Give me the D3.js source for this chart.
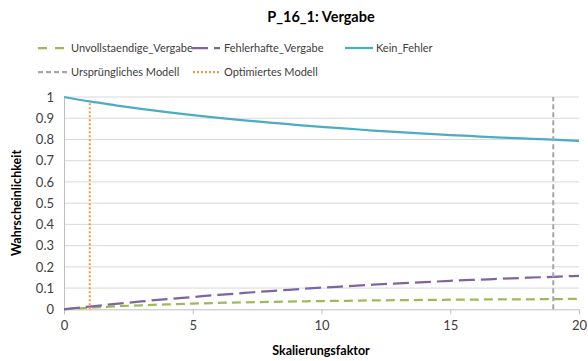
<!DOCTYPE html>
<html>
<head>
<meta charset="utf-8">
<script src="https://cdn.jsdelivr.net/npm/d3@7"></script>
<style>
  html, body { margin: 0; padding: 0; background: #fff; }
  svg { display: block; font-family: Lato, "Open Sans", sans-serif; }
</style>
</head>
<body>
<svg id="chart" width="588" height="361"></svg>
<script>
// Skalierungsfaktor 0..20
const factors = [0,1,2,3,4,5,6,7,8,9,10,11,12,13,14,15,16,17,18,19,20];
const unvollstaendige = [0,0.008,0.014,0.019,0.023,0.027,0.030,0.033,0.035,0.037,0.039,0.040,0.042,0.043,0.044,0.045,0.046,0.047,0.047,0.048,0.049];
const fehlerhafte = [0,0.013,0.025,0.037,0.048,0.058,0.068,0.077,0.086,0.094,0.102,0.109,0.116,0.122,0.128,0.134,0.139,0.144,0.149,0.153,0.158];
const keinFehler = [1,0.979,0.961,0.944,0.929,0.915,0.902,0.890,0.879,0.869,0.859,0.851,0.842,0.835,0.828,0.821,0.815,0.809,0.804,0.799,0.793];
const modelFactors = { urspruenglich: 19, optimiert: 1 };
const xTicks = [0,5,10,15,20];
const yTicks = [0,0.1,0.2,0.3,0.4,0.5,0.6,0.7,0.8,0.9,1];

const svg = d3.select("#chart");
const x = d3.scaleLinear().domain([0,20]).range([64,579]);
const y = d3.scaleLinear().domain([0,1]).range([309.3,97]);

// Title
svg.append("text").attr("x",321).attr("y",22).attr("text-anchor","middle")
  .attr("font-size",14.5).attr("font-weight","bold").attr("fill","#000").text("P_16_1: Vergabe");

// Gridlines
svg.append("g").selectAll("line").data(yTicks.filter(d => d > 0)).join("line")
  .attr("x1",x(0)).attr("x2",x(20)).attr("y1",d=>y(d)).attr("y2",d=>y(d))
  .attr("stroke","#d9d9d9").attr("stroke-width",1);

// Y axis
const yAxis = svg.append("g").attr("transform",`translate(${x(0)},0)`)
  .call(d3.axisLeft(y).tickValues(yTicks).tickFormat(d3.format("~g")).tickSize(0).tickPadding(10));
yAxis.select(".domain").attr("stroke","#bfbfbf");
yAxis.selectAll("text").attr("font-size",13).attr("fill","#404040").attr("font-family","Lato, sans-serif");

// X axis
const xAxis = svg.append("g").attr("transform",`translate(0,${y(0)})`)
  .call(d3.axisBottom(x).tickValues(xTicks).tickFormat(d3.format("d")).tickSizeInner(5).tickSizeOuter(0).tickPadding(6));
xAxis.select(".domain").attr("stroke","#bfbfbf");
xAxis.selectAll(".tick line").attr("stroke","#bfbfbf");
xAxis.selectAll("text").attr("font-size",13).attr("fill","#404040").attr("font-family","Lato, sans-serif");

// Axis titles
svg.append("text").attr("x",321).attr("y",355).attr("text-anchor","middle")
  .attr("font-size",12.5).attr("font-weight","bold").attr("fill","#000").text("Skalierungsfaktor");
svg.append("text").attr("transform","translate(21,203) rotate(-90)").attr("text-anchor","middle")
  .attr("font-size",12.5).attr("font-weight","bold").attr("fill","#000").text("Wahrscheinlichkeit");

const line = d3.line().x((d,i)=>x(factors[i])).y(d=>y(d)).curve(d3.curveMonotoneX);

const series = [
  { name: "Unvollstaendige_Vergabe", values: unvollstaendige, color: "#9bbb59", dash: "9,5" },
  { name: "Fehlerhafte_Vergabe", values: fehlerhafte, color: "#8064a2", dash: "16,6" },
  { name: "Kein_Fehler", values: keinFehler, color: "#4bacc6", dash: null }
];

series.forEach(s => {
  svg.append("path").datum(s.values).attr("d",line).attr("fill","none")
    .attr("stroke",s.color).attr("stroke-width",2.25)
    .attr("stroke-dasharray",s.dash);
});

// Model markers
svg.append("line").attr("x1",x(modelFactors.urspruenglich)).attr("x2",x(modelFactors.urspruenglich))
  .attr("y1",y(0)).attr("y2",y(1)).attr("stroke","#a6a6a6").attr("stroke-width",2).attr("stroke-dasharray","5,3");
svg.append("line").attr("x1",x(modelFactors.optimiert)).attr("x2",x(modelFactors.optimiert))
  .attr("y1",y(0)).attr("y2",y(0.979)).attr("stroke","#f79646").attr("stroke-width",2).attr("stroke-dasharray","2,2");

// Legend
const legend = [
  { name: "Unvollstaendige_Vergabe", color: "#9bbb59", dash: "9,8", x1: 38, x2: 64, tx: 71, ty: 48 },
  { name: "Fehlerhafte_Vergabe", color: "#8064a2", dash: "16,6", x1: 192, x2: 220, tx: 224, ty: 48 },
  { name: "Kein_Fehler", color: "#4bacc6", dash: null, x1: 345, x2: 373, tx: 376, ty: 48 },
  { name: "Ursprüngliches Modell", color: "#a6a6a6", dash: "5,3", x1: 38, x2: 68, tx: 71, ty: 72 },
  { name: "Optimiertes Modell", color: "#f79646", dash: "2,2", x1: 193, x2: 219, tx: 224, ty: 72 }
];
const lg = svg.append("g").selectAll("g").data(legend).join("g");
lg.append("line").attr("x1",d=>d.x1).attr("x2",d=>d.x2).attr("y1",d=>d.ty).attr("y2",d=>d.ty)
  .attr("stroke",d=>d.color).attr("stroke-width",2.25).attr("stroke-dasharray",d=>d.dash);
lg.append("text").attr("x",d=>d.tx).attr("y",d=>d.ty+4).attr("font-size",11)
  .attr("fill","#404040").text(d=>d.name);
</script>
</body>
</html>
